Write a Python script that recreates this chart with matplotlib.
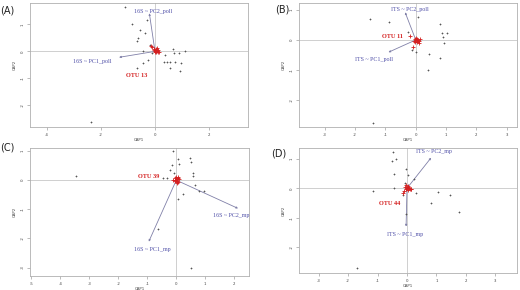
import numpy as np
import matplotlib.pyplot as plt

# --- panel data ---
# (A) 16S pollinator
a_x = [-1.11, -0.31, -0.86, -0.56, -0.37, -0.62, -0.65, -0.19, -0.46, -0.12, 0.68, 0.89, 1.11,
       0.70, 0.37, 0.33, 0.43, 0.56, 0.74, 0.96, 0.56, 0.93, -0.46, -0.25, -0.68, -2.38]
a_y = [1.65, 1.16, 1.00, 0.79, 0.69, 0.48, 0.39, 0.23, 0.00, -0.07, 0.07, -0.05, 0.01,
       -0.07, -0.14, -0.38, -0.38, -0.41, -0.38, -0.44, -0.60, -0.72, -0.44, -0.32, -0.63, -2.63]
a_red_x = [0.00, 0.03, -0.02, 0.05, 0.08, -0.04, 0.02, 0.10, 0.12, 0.04, 0.00, 0.06, -0.15, -0.10, 0.15]
a_red_y = [0.00, 0.02, 0.05, -0.02, 0.01, 0.08, 0.10, -0.03, 0.04, 0.06, -0.04, 0.12, 0.20, 0.15, -0.02]
a_arrows = {'16S ~ PC1_poll': (-1.33, -0.22), '16S ~ PC2_poll': (-0.21, 1.41)}
a_otu = 'OTU 13'

# (B) ITS pollinator
b_x = [-1.51, -0.87, 0.08, 0.80, 0.86, 1.02, 0.89, 0.94, 0.45, 0.80, 0.40, 0.01, -0.13, -0.24, -1.42]
b_y = [0.69, 0.61, 0.76, 0.53, 0.22, 0.22, 0.10, -0.09, -0.48, -0.59, -0.99, -0.39, -0.33, 0.28, -2.76]
b_red_x = [0.00, 0.03, -0.03, 0.06, 0.09, -0.06, 0.02, 0.12, 0.05, -0.02, 0.15, -0.20, -0.08, 0.10]
b_red_y = [0.00, 0.03, 0.02, -0.02, 0.01, -0.03, 0.05, -0.04, -0.06, -0.07, 0.02, 0.12, -0.25, -0.10]
b_arrows = {'ITS ~ PC1_poll': (-0.90, -0.41), 'ITS ~ PC2_poll': (-0.35, 0.92)}
b_otu = 'OTU 11'

# (C) 16S microbial
c_x = [-3.46, -0.11, 0.06, 0.10, -0.15, -0.23, -0.07, 0.48, 0.50, 0.59, 0.59, -0.47, -0.32,
       0.96, 0.63, 0.23, 0.06, -0.63, 0.51, 0.78]
c_y = [0.15, 0.99, 0.74, 0.55, 0.51, 0.34, 0.23, 0.77, 0.63, 0.23, 0.15, 0.09, 0.08,
       -0.37, -0.17, -0.46, -0.65, -1.69, -3.01, -0.38]
c_red_x = [0.00, 0.03, -0.03, 0.06, 0.02, -0.06, 0.05, -0.02, 0.08, -0.10, 0.01, 0.04, -0.05, 0.07]
c_red_y = [0.00, 0.05, 0.02, 0.08, -0.04, -0.02, 0.12, 0.10, 0.03, 0.01, -0.08, -0.10, 0.06, -0.05]
c_arrows = {'16S ~ PC1_mp': (-0.95, -2.11), '16S ~ PC2_mp': (2.13, -0.97)}
c_otu = 'OTU 39'

# (D) ITS microbial
d_x = [-0.49, -0.39, -0.50, -0.43, -0.03, 0.02, 0.24, -0.07, -0.44, -1.15, 0.31, 1.07,
       1.46, 0.80, 1.78, -0.05, -1.71, -0.15]
d_y = [1.25, 0.99, 0.94, 0.48, 0.66, 0.45, 0.31, 0.19, 0.02, -0.09, -0.15, -0.11,
       -0.23, -0.49, -0.82, -0.87, -2.70, -0.23]
d_red_x = [0.00, 0.03, -0.03, 0.06, 0.09, -0.06, 0.02, 0.12, -0.09, 0.04, -0.02, 0.15, -0.12]
d_red_y = [0.00, 0.03, -0.02, 0.02, -0.03, 0.05, 0.07, -0.04, -0.08, -0.06, 0.10, -0.02, -0.15]
d_arrows = {'ITS ~ PC1_mp': (-0.03, -1.30), 'ITS ~ PC2_mp': (0.82, 1.04)}
d_otu = 'OTU 44'

# --- layout ---
panels = [
    dict(tag='(A)', pos=[0.0577, 0.562, 0.419, 0.4276], xlim=(-4.63, 3.44), ylim=(-2.8, 1.79),
         xt=[-4, -2, 0, 2], yt=[1, 0, -1, -2], x=a_x, y=a_y, rx=a_red_x, ry=a_red_y,
         arrows=a_arrows, otu=a_otu, tagxy=(0.0, 0.965),
         lab={'16S ~ PC1_poll': (-2.34, -0.38), '16S ~ PC2_poll': (-0.07, 1.46)},
         otuxy=(-0.68, -0.91)),
    dict(tag='(B)', pos=[0.575, 0.561, 0.4187, 0.4276], xlim=(-3.85, 3.33), ylim=(-2.91, 1.22),
         xt=[-3, -2, -1, 0, 1, 2, 3], yt=[1, 0, -1, -2], x=b_x, y=b_y, rx=b_red_x, ry=b_red_y,
         arrows=b_arrows, otu=b_otu, tagxy=(0.529, 0.968),
         lab={'ITS ~ PC1_poll': (-1.37, -0.64), 'ITS ~ PC2_poll': (-0.19, 1.02)},
         otuxy=(-0.76, 0.13)),
    dict(tag='(C)', pos=[0.0577, 0.0483, 0.4217, 0.44], xlim=(-5.05, 2.52), ylim=(-3.29, 1.09),
         xt=[-5, -4, -3, -2, -1, 0, 1, 2], yt=[1, 0, -1, -2, -3], x=c_x, y=c_y, rx=c_red_x, ry=c_red_y,
         arrows=c_arrows, otu=c_otu, tagxy=(0.0, 0.493),
         lab={'16S ~ PC1_mp': (-0.83, -2.38), '16S ~ PC2_mp': (1.91, -1.23)},
         otuxy=(-0.95, 0.14)),
    dict(tag='(D)', pos=[0.575, 0.0576, 0.4187, 0.431], xlim=(-3.67, 3.73), ylim=(-2.89, 1.36),
         xt=[-3, -2, -1, 0, 1, 2, 3], yt=[1, 0, -1, -2], x=d_x, y=d_y, rx=d_red_x, ry=d_red_y,
         arrows=d_arrows, otu=d_otu, tagxy=(0.522, 0.469),
         lab={'ITS ~ PC1_mp': (-0.05, -1.56), 'ITS ~ PC2_mp': (0.90, 1.25)},
         otuxy=(-0.58, -0.51)),
]

serif = ['Liberation Serif', 'DejaVu Serif']
blue = '#5050a8'
red = '#d42020'
arrow_col = '#8080a8'

fig = plt.figure(figsize=(5.2, 2.9), dpi=100)

for p in panels:
    ax = fig.add_axes(p['pos'])
    ax.set_xlim(*p['xlim'])
    ax.set_ylim(*p['ylim'])
    ax.axhline(0, color='#c8c8c8', lw=0.6, zorder=1)
    ax.axvline(0, color='#c8c8c8', lw=0.6, zorder=1)
    ax.scatter(p['x'], p['y'], marker='+', s=3, lw=0.5, color='#555555', zorder=3)
    ax.scatter(p['rx'], p['ry'], marker='+', s=5, lw=0.6, color=red, zorder=4)
    for name, (tx, ty) in p['arrows'].items():
        ax.annotate('', xy=(tx, ty), xytext=(0, 0),
                    arrowprops=dict(arrowstyle='-|>', color=arrow_col, lw=0.6,
                                    mutation_scale=2.5, shrinkA=0, shrinkB=0), zorder=2)
        lx, ly = p['lab'][name]
        ax.text(lx, ly, name, color=blue, fontsize=4.3, family=serif,
                ha='center', va='center', zorder=5)
    ox, oy = p['otuxy']
    ax.text(ox, oy, p['otu'], color=red, fontsize=4.5, family=serif, fontweight='bold',
            ha='center', va='center', zorder=5)

    ax.set_xticks(p['xt'])
    ax.set_yticks(p['yt'])
    ax.set_xticklabels([str(v) for v in p['xt']])
    ax.set_yticklabels([str(v) for v in p['yt']], rotation=90, va='center')
    ax.tick_params(length=2, width=0.4, colors='#888888', labelsize=2.8, pad=2,
                   labelcolor='#444444')
    for s in ax.spines.values():
        s.set_color('#b0b0b0')
        s.set_linewidth(0.6)
    ax.set_xlabel('CAP1', fontsize=2.8, color='#444444', labelpad=1)
    ax.set_ylabel('CAP2', fontsize=2.8, color='#444444', labelpad=3)

    tx, ty = p['tagxy']
    fig.text(tx, ty, p['tag'], fontsize=7, ha='left', va='center', color='#222222')

fig.savefig('out.png', dpi=100)
